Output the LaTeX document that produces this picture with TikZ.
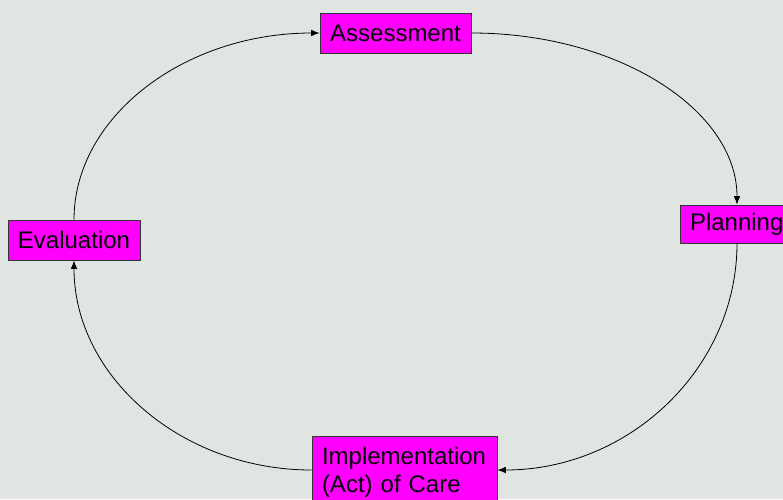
\documentclass[tikz,border=0pt]{standalone}
\usepackage{fontspec}
\setmainfont{Liberation Sans}
\usetikzlibrary{arrows.meta}
\definecolor{bg}{RGB}{224,229,226}
\definecolor{mag}{RGB}{255,0,255}
\begin{document}
\begin{tikzpicture}[x=1pt,y=-1pt,
  box/.style={draw=black!80, fill=mag, line width=0.7pt, inner sep=0pt,
    font=\fontsize{24}{28}\selectfont},
  conn/.style={line width=0.8pt, -{Latex[length=8.5pt,width=6.5pt]}}]
\clip (0,0) rectangle (783,499);
\fill[bg] (0,0) rectangle (783,499);
\node[box, minimum width=151pt, minimum height=40pt] (assess) at (395.5,33) {Assessment};
\node[box, minimum width=114pt, minimum height=38pt, text width=94pt, align=left] (plan) at (737,224) {Planning};
\node[box, minimum width=132pt, minimum height=40pt] (eval) at (74,240) {Evaluation};
\node[box, minimum width=185pt, minimum height=68pt, text width=165pt, align=left] (impl) at (404.5,470) {\rule{0pt}{26pt}Implementation\\(Act) of Care\strut};
\draw[conn] (eval.north) .. controls (74,117) and (184,33) .. (assess.west);
\draw[conn] (assess.east) .. controls (618,33) and (737,110) .. (plan.north);
\draw[conn] (plan.south) .. controls (737,368) and (629.5,470) .. (impl.east);
\draw[conn] (impl.west) .. controls (181,470) and (74,376) .. (eval.south);
\end{tikzpicture}
\end{document}
